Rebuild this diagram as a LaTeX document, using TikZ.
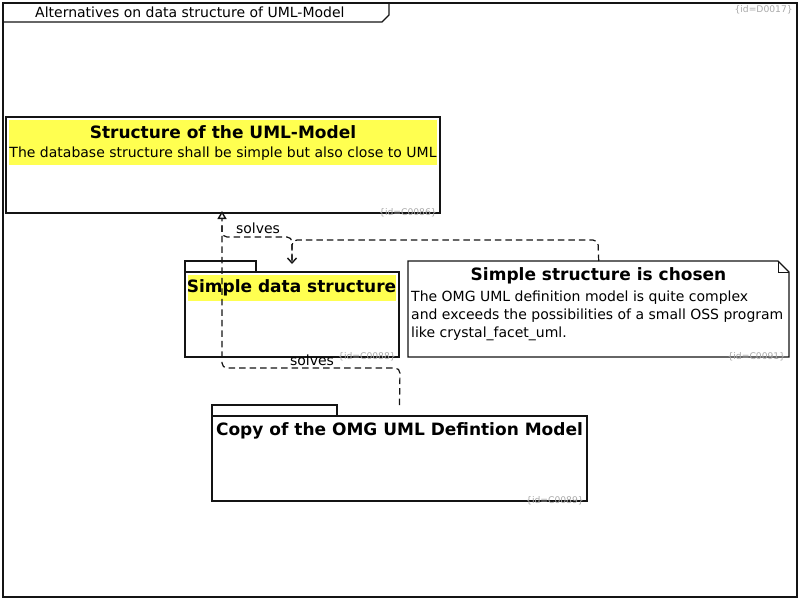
\documentclass[tikz,border=0pt]{standalone}
\usepackage{fontspec}
\setmainfont{DejaVu Sans}
\usetikzlibrary{arrows.meta}
\definecolor{hl}{RGB}{255,255,80}
\definecolor{idgray}{RGB}{170,170,170}
\definecolor{ln}{RGB}{20,20,20}
\tikzset{
  box/.style={draw=ln, line width=1.2pt, fill=white, inner sep=0pt, outer sep=0pt, anchor=north west},
  hlbox/.style={fill=hl, inner sep=0pt, outer sep=0pt, anchor=north west},
  ttl/.style={font=\fontsize{17}{20}\selectfont\bfseries, inner sep=0pt},
  body/.style={font=\fontsize{14}{18}\selectfont, inner sep=0pt, anchor=base west},
  idtxt/.style={font=\fontsize{9.2}{10}\selectfont, text=idgray, inner sep=0pt, anchor=south east},
  conn/.style={draw=ln, line width=1.2pt, dash pattern=on 6.5pt off 4pt, rounded corners=5pt},
  lbl/.style={font=\fontsize{14}{16}\selectfont, inner sep=0pt},
}
\begin{document}
\begin{tikzpicture}[x=1pt,y=-1pt]
\useasboundingbox (0,0) rectangle (800,600);
% frame
\node[box, minimum width=794pt, minimum height=594pt, fill=none] (frame) at (3,3) {};
\draw[ln, line width=1.2pt] (3,22) -- (382,22) -- (389,15) -- (389,3);
\node[lbl, anchor=west] (ftitle) at (35,12.5) {Alternatives on data structure of UML-Model};
\node[idtxt, anchor=north east] (fid) at (793,5) {\{id=D0017\}};

% C0086
\node[box, minimum width=434pt, minimum height=96pt] (c86) at (6,117) {};
\node[hlbox, minimum width=428pt, minimum height=45pt] (c86hl) at (9,120) {};
\node[ttl] (c86t) at (223,132.5) {Structure of the UML-Model};
\node[body, anchor=base] (c86b) at (223,157) {The database structure shall be simple but also close to UML};
\node[idtxt] (c86id) at ([xshift=-3pt,yshift=-4pt]c86.south east) {\{id=C0086\}};

% C0088 package
\node[box, minimum width=71pt, minimum height=11pt] (c88tab) at (185,261) {};
\node[box, minimum width=214pt, minimum height=85pt] (c88) at (185,272) {};
\node[hlbox, minimum width=208pt, minimum height=26pt] (c88hl) at (188,275) {};
\node[ttl] (c88t) at (291.5,287.5) {Simple data structure};
\node[idtxt] (c88id) at ([xshift=-3pt,yshift=-4pt]c88.south east) {\{id=C0088\}};

% C0091 note
\coordinate (n1) at (408,261);
\coordinate (n2) at (778,261);
\coordinate (n3) at (789,272);
\coordinate (n4) at (789,357);
\coordinate (n5) at (408,357);
\draw[ln, line width=1.2pt, fill=white, line join=miter] (n1) -- (n2) -- (n3) -- (n4) -- (n5) -- cycle;
\draw[ln, line width=1pt] (n2) -- (778,272) -- (n3);
\node[inner sep=0pt, minimum width=381pt, minimum height=96pt, anchor=north west] (c91) at (408,261) {};
\node[ttl] (c91t) at (598.5,276) {Simple structure is chosen};
\node[body] (c91b1) at (411,301) {The OMG UML definition model is quite complex};
\node[body] (c91b2) at (411,319) {and exceeds the possibilities of a small OSS program};
\node[body] (c91b3) at (411,337) {like crystal\_facet\_uml.};
\node[idtxt] (c91id) at ([xshift=-4pt,yshift=-4pt]c91.south east) {\{id=C0091\}};

% C0089 package
\node[box, minimum width=125pt, minimum height=11pt] (c89tab) at (212,405) {};
\node[box, minimum width=375pt, minimum height=85pt] (c89) at (212,416) {};
\node[ttl] (c89t) at (399.5,431) {Copy of the OMG UML Defintion Model};
\node[idtxt] (c89id) at ([xshift=-3pt,yshift=-4pt]c89.south east) {\{id=C0089\}};

% connectors
\coordinate (a1) at ([yshift=-3pt]c88tab.north -| c88.north);
\draw[conn, -{Straight Barb[length=5pt,width=9pt,line width=1.4pt]}] (c91.north) -- (598,240) -- (292,240) -- (a1);
\draw[conn, -{Triangle[open,length=8pt,width=9pt,fill=white,line width=1.4pt]}] (c88tab.north -| c88.north) -- (292,237) -- (222,237) -- ([xshift=-1pt,yshift=2pt]c86.south);
\draw[conn] (c89tab.north -| c89.north) -- (400,368) -- (222,368) -- (222,225);
\node[lbl] (l1) at (258,228) {solves};
\node[lbl] (l2) at (312,360) {solves};
\end{tikzpicture}
\end{document}
